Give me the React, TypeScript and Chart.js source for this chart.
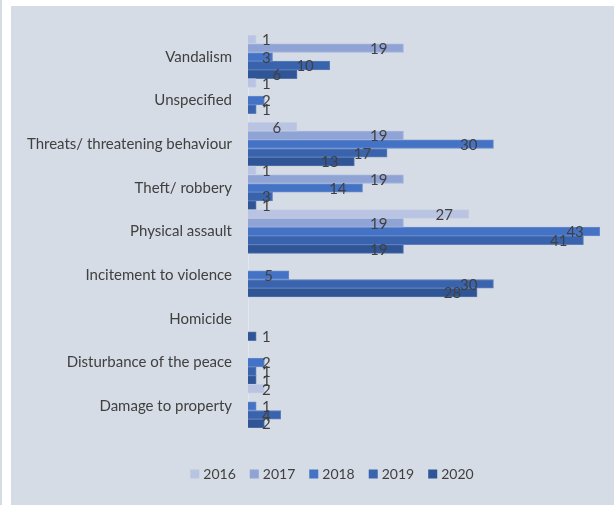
import React, { useEffect, useRef } from "react";
import { Chart, registerables } from "chart.js";

Chart.register(...registerables);

const categories = [
  "Vandalism",
  "Unspecified",
  "Threats/ threatening behaviour",
  "Theft/ robbery",
  "Physical assault",
  "Incitement to violence",
  "Homicide",
  "Disturbance of the peace",
  "Damage to property",
];

const years = ["2016", "2017", "2018", "2019", "2020"];

const values2016 = [1, 1, 6, 1, 27, 0, 0, 0, 2];
const values2017 = [19, 0, 19, 19, 19, 0, 0, 0, 0];
const values2018 = [3, 2, 30, 14, 43, 5, 0, 2, 1];
const values2019 = [10, 1, 17, 3, 41, 30, 0, 1, 4];
const values2020 = [6, 0, 13, 1, 19, 28, 1, 1, 2];

const seriesValues = [values2016, values2017, values2018, values2019, values2020];
const seriesColors = ["#b9c3e2", "#8fa4d5", "#4472c4", "#3a63ad", "#2f5597"];

const BG = "#d6dce5";
const TEXT = "#404040";
const FONT = "Lato, 'Liberation Sans', sans-serif";

function lighten(hex: string, t: number) {
  const n = parseInt(hex.slice(1), 16);
  const r = (n >> 16) & 255;
  const g = (n >> 8) & 255;
  const b = n & 255;
  const m = (c: number) => Math.round(c + (255 - c) * t);
  return `rgb(${m(r)},${m(g)},${m(b)})`;
}

const backgroundPlugin = {
  id: "panelBg",
  beforeDraw(chart: any) {
    const { ctx, width, height } = chart;
    ctx.save();
    ctx.fillStyle = "#ffffff";
    ctx.fillRect(0, 0, width, height);
    ctx.fillStyle = BG;
    ctx.fillRect(11, 6, width - 11, height - 6);
    ctx.fillRect(0, 0, 2, height);
    ctx.restore();
  },
};

const labelsPlugin = {
  id: "barLabels",
  afterDatasetsDraw(chart: any) {
    const { ctx } = chart;
    const left = chart.chartArea.left;
    ctx.save();
    ctx.font = `15px ${FONT}`;
    ctx.fillStyle = TEXT;
    ctx.textAlign = "right";
    ctx.textBaseline = "middle";
    chart.data.datasets.forEach((ds: any, i: number) => {
      const meta = chart.getDatasetMeta(i);
      meta.data.forEach((bar: any, j: number) => {
        const v = ds.data[j];
        if (v === null || v === undefined || v === 0) return;
        const txt = String(v);
        const w = ctx.measureText(txt).width;
        const right = Math.max(bar.x - 16, left + 14 + w);
        ctx.fillText(txt, right, bar.y + 1);
      });
    });
    ctx.restore();
  },
};

const legendPlugin = {
  id: "customLegend",
  afterDraw(chart: any) {
    const { ctx } = chart;
    ctx.save();
    ctx.font = `14px ${FONT}`;
    ctx.textBaseline = "middle";
    ctx.textAlign = "left";
    const box = 9;
    const gap = 4;
    const spacing = 14;
    const widths = chart.data.datasets.map((ds: any) => ctx.measureText(ds.label).width);
    const total =
      widths.reduce((a: number, w: number) => a + box + gap + w, 0) + spacing * (widths.length - 1);
    let x = 332 - total / 2;
    const cy = 474;
    chart.data.datasets.forEach((ds: any, i: number) => {
      ctx.fillStyle = ds.backgroundColor;
      ctx.fillRect(x, cy - 4.5, box, box);
      ctx.fillStyle = TEXT;
      ctx.fillText(ds.label, x + box + gap, cy);
      x += box + gap + widths[i] + spacing;
    });
    ctx.restore();
  },
};

export default function App() {
  const ref = useRef<HTMLCanvasElement | null>(null);

  useEffect(() => {
    if (!ref.current) return;
    const chart = new Chart(ref.current, {
      type: "bar",
      data: {
        labels: categories,
        datasets: years.map((y, i) => ({
          label: y,
          data: seriesValues[i].map((v) => (v === 0 ? null : v)),
          backgroundColor: seriesColors[i],
          borderColor: lighten(seriesColors[i], 0.18),
          borderWidth: 1,
          borderSkipped: "start",
          categoryPercentage: 1,
          barPercentage: 1,
        })),
      },
      options: {
        indexAxis: "y",
        responsive: false,
        animation: false,
        devicePixelRatio: 1,
        layout: { padding: { left: 0, right: 6, top: 35, bottom: 77 } },
        plugins: {
          legend: { display: false },
          tooltip: { enabled: false },
          title: { display: false },
        },
        scales: {
          x: {
            display: false,
            min: 0,
            max: 44,
          },
          y: {
            grid: { display: false, drawTicks: false },
            border: { display: true, color: "#e3e6eb", width: 1 },
            ticks: {
              color: TEXT,
              font: { family: FONT, size: 15 },
              padding: 16,
              autoSkip: false,
            },
            afterFit(scale: any) {
              scale.width = 248;
            },
          },
        },
      },
      plugins: [backgroundPlugin, labelsPlugin, legendPlugin],
    });
    return () => chart.destroy();
  }, []);

  return (
    <div style={{ position: "fixed", left: 0, top: 0, width: 614, height: 505, background: "#fff" }}>
      <canvas ref={ref} width={614} height={505} style={{ display: "block", width: 614, height: 505 }} />
    </div>
  );
}
